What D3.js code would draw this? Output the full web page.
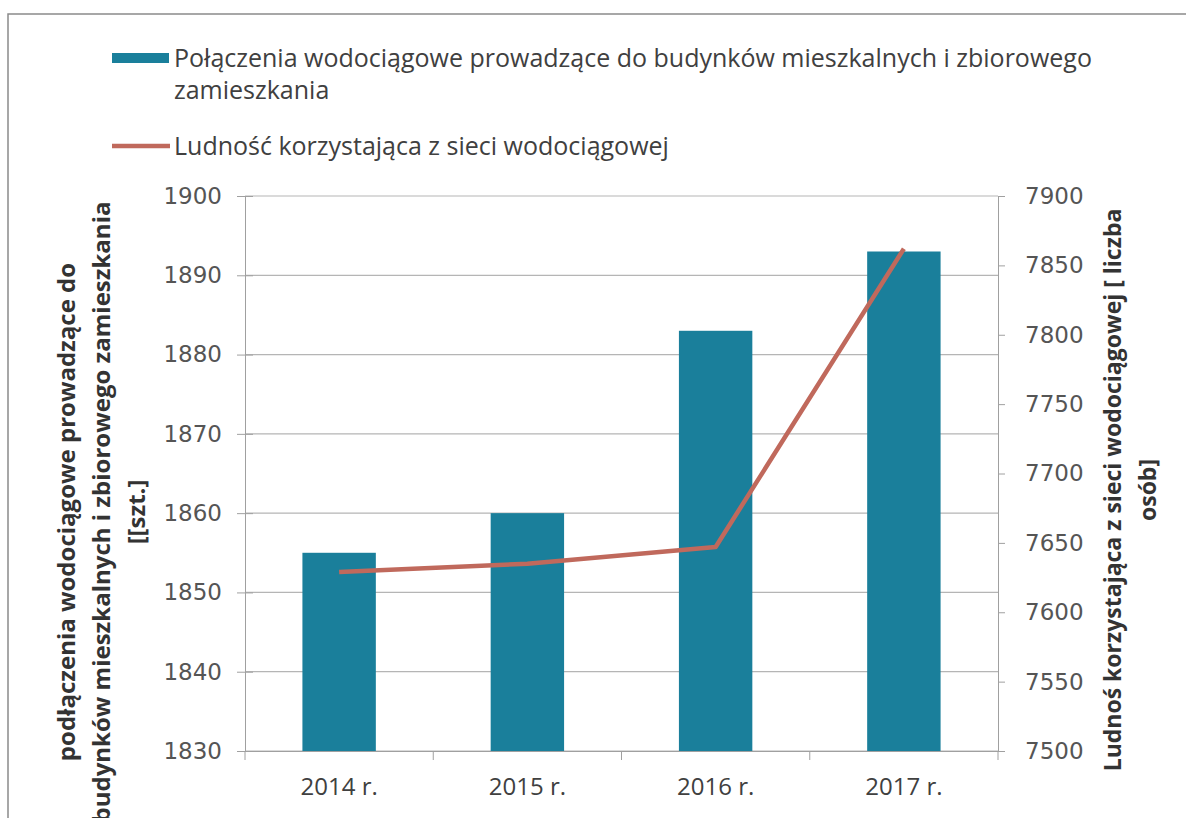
<!DOCTYPE html>
<html>
<head>
<meta charset="utf-8">
<script src="https://cdn.jsdelivr.net/npm/d3@7"></script>
<style>
  body { margin: 0; background: #fff; }
  svg { display: block; }
</style>
</head>
<body>
<div id="okvir"></div>
<script>
// podaci
const godine = ["2014 r.", "2015 r.", "2016 r.", "2017 r."]
const prikljucci = [1855, 1860, 1883, 1893]
const ludnosc = [7629, 7635, 7647, 7862]
const tickoviLijevo = [1830, 1840, 1850, 1860, 1870, 1880, 1890, 1900]
const tickoviDesno = [7500, 7550, 7600, 7650, 7700, 7750, 7800, 7850, 7900]

const nazivStupci = "Połączenia wodociągowe prowadzące do budynków mieszkalnych i zbiorowego"
const nazivStupci2 = "zamieszkania"
const nazivLinija = "Ludność korzystająca z sieci wodociągowej"
const naslovLijevo = ["podłączenia wodociągowe prowadzące do", "budynków mieszkalnych i zbiorowego zamieszkania", "[[szt.]"]
const naslovDesno = ["Ludnoś korzystająca z sieci wodociągowej [ liczba", "osób]"]

const dimenzije = { sirina: 1186, visina: 818, lijevo: 245, desno: 998, gore: 196, dolje: 751 }
const fontTekst = "'Open Sans', Lato, sans-serif"
const fontBrojevi = "'DejaVu Sans', Verdana, sans-serif"

const okvir = d3.select("#okvir").append("svg")
  .attr("width", dimenzije.sirina)
  .attr("height", dimenzije.visina)

// vanjski okvir
okvir.append("rect")
  .attr("x", 8).attr("y", 14)
  .attr("width", 1200).attr("height", 900)
  .attr("fill", "none")
  .attr("stroke", "#8a8a8a")
  .attr("stroke-width", 1.5)

// razmjeri
const xSkala = d3.scaleBand()
  .domain(godine)
  .range([dimenzije.lijevo, dimenzije.desno])
  .padding(0)
const yLijevo = d3.scaleLinear()
  .domain([1830, 1900])
  .range([dimenzije.dolje, dimenzije.gore])
const yDesno = d3.scaleLinear()
  .domain([7500, 7900])
  .range([dimenzije.dolje, dimenzije.gore])

// mreza
okvir.append("g")
  .selectAll("line")
  .data(tickoviLijevo)
  .join("line")
    .attr("x1", dimenzije.lijevo).attr("x2", dimenzije.desno)
    .attr("y1", d => yLijevo(d)).attr("y2", d => yLijevo(d))
    .attr("stroke", "#b5b5b5")
    .attr("stroke-width", 1.2)

// stupci
const sirinaStupca = xSkala.bandwidth() * 0.39
okvir.append("g")
  .selectAll("rect")
  .data(godine)
  .join("rect")
    .attr("x", d => xSkala(d) + (xSkala.bandwidth() - sirinaStupca) / 2)
    .attr("width", sirinaStupca)
    .attr("y", (d, i) => yLijevo(prikljucci[i]))
    .attr("height", (d, i) => yLijevo(1830) - yLijevo(prikljucci[i]))
    .attr("fill", "#1a7f9b")

// linija
const linija = d3.line()
  .x((d, i) => xSkala(godine[i]) + xSkala.bandwidth() / 2)
  .y(d => yDesno(d))
okvir.append("path")
  .datum(ludnosc)
  .attr("d", linija)
  .attr("fill", "none")
  .attr("stroke", "#c0695c")
  .attr("stroke-width", 4.5)
  .attr("stroke-linejoin", "round")

// osi
const osLijevo = okvir.append("g")
  .attr("transform", `translate(${dimenzije.lijevo},0)`)
  .call(d3.axisLeft(yLijevo).tickValues(tickoviLijevo).tickFormat(d3.format("d"))
    .tickSize(8).tickPadding(15).tickSizeOuter(0))
osLijevo.selectAll(".tick line").attr("x1", 8)
osLijevo.selectAll("line, path").attr("stroke", "#a0a0a0")

const osDesno = okvir.append("g")
  .attr("transform", `translate(${dimenzije.desno},0)`)
  .call(d3.axisRight(yDesno).tickValues(tickoviDesno).tickFormat(d3.format("d"))
    .tickSize(7).tickPadding(20).tickSizeOuter(0))
osDesno.selectAll("line, path").attr("stroke", "#a0a0a0")

okvir.selectAll(".tick text")
  .style("font-family", fontBrojevi)
  .style("font-size", "23px")
  .style("fill", "#555")

const osX = okvir.append("g")
  .attr("transform", `translate(0,${dimenzije.dolje})`)
  .call(d3.axisBottom(xSkala).tickSize(0).tickPadding(27).tickSizeOuter(0))
osX.select(".domain").attr("stroke", "#a0a0a0")
osX.selectAll("text")
  .attr("dy", "0.71em")
  .style("font-family", fontTekst)
  .style("font-size", "24px")
  .style("fill", "#404040")
// crtice izmedju kategorija
osX.append("g")
  .selectAll("line")
  .data(godine.concat(["kraj"]))
  .join("line")
    .attr("x1", (d, i) => i < godine.length ? xSkala(d) : dimenzije.desno)
    .attr("x2", (d, i) => i < godine.length ? xSkala(d) : dimenzije.desno)
    .attr("y1", 0).attr("y2", 9)
    .attr("stroke", "#a0a0a0")

// naslovi osi
const stilNaslova = (sel, velicina) => sel
  .attr("text-anchor", "middle")
  .style("font-family", fontTekst)
  .style("font-weight", "bold")
  .style("font-size", velicina)
  .style("fill", "#333")

const tLijevo = okvir.append("text")
  .attr("transform", "translate(0,512) rotate(-90)")
  .call(stilNaslova, "24px")
naslovLijevo.forEach((t, i) => {
  tLijevo.append("tspan").attr("x", 0).attr("y", 75 + i * 35).text(t)
})

const tDesno = okvir.append("text")
  .attr("transform", "translate(0,490) rotate(-90)")
  .call(stilNaslova, "23px")
naslovDesno.forEach((t, i) => {
  tDesno.append("tspan").attr("x", 0).attr("y", 1121 + i * 35).text(t)
})

// legenda
const stilLegende = sel => sel
  .style("font-family", fontTekst)
  .style("font-size", "25px")
  .style("fill", "#404040")

const legenda = okvir.append("g")
legenda.append("rect")
  .attr("x", 112).attr("y", 53).attr("width", 57).attr("height", 10)
  .attr("fill", "#1a7f9b")
legenda.append("text").call(stilLegende)
  .attr("x", 174).attr("y", 67).text(nazivStupci)
legenda.append("text").call(stilLegende)
  .attr("x", 174).attr("y", 99).text(nazivStupci2)
legenda.append("line")
  .attr("x1", 112).attr("x2", 170).attr("y1", 146).attr("y2", 146)
  .attr("stroke", "#c0695c").attr("stroke-width", 4.5)
legenda.append("text").call(stilLegende)
  .attr("x", 174).attr("y", 155).text(nazivLinija)
</script>
</body>
</html>
